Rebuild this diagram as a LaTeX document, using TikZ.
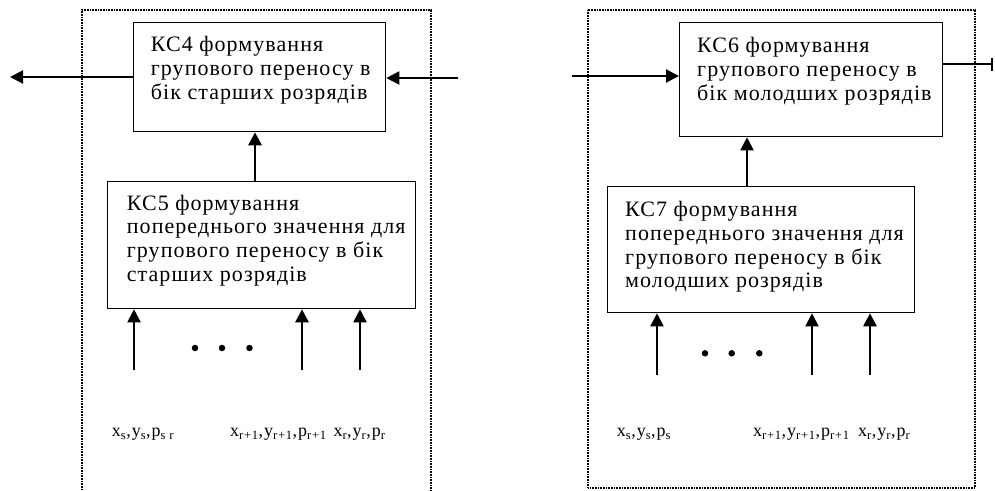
\documentclass[tikz,border=0pt]{standalone}
\usepackage{fontspec}
\setmainfont{Liberation Serif}
\newfontfamily\boxfont[LetterSpace=4.8]{Liberation Serif}
\newfontfamily\lblfont[LetterSpace=5.5]{Liberation Serif}
\usetikzlibrary{arrows.meta}
\begin{document}
\begin{tikzpicture}[x=1pt,y=-1pt,
  blk/.style={draw,line width=1.3pt,inner sep=0pt,anchor=north west},
  txt/.style={anchor=base west,inner sep=0pt,align=left,font=\boxfont\fontsize{22}{23.8}\selectfont},
  lbl/.style={anchor=base west,inner sep=0pt,font=\lblfont\fontsize{18}{20}\selectfont},
  frame/.style={line width=1.6pt,dash pattern=on 1pt off 0.6pt},
  arr/.style={line width=2pt,-{Triangle[length=13pt,width=13pt]}},
  arrb/.style={line width=2.8pt,-{Triangle[length=13pt,width=13pt]}},
  dotn/.style={circle,fill,inner sep=0pt,minimum size=6.5pt}]
\useasboundingbox (0,0) rectangle (995,490);
% frames
\draw[frame] (82,490) -- (82,10) -- (431,10) -- (431,490);
\draw[frame] (588,10) rectangle (975,488);
% left panel
\node[blk,minimum width=252pt,minimum height=109pt] (kc4) at (133,22) {};
\node[txt] (t4) at (150.7,99.3) {КС4 формування\\групового переносу в\\бік старших розрядів};
\node[blk,minimum width=308pt,minimum height=127pt] (kc5) at (107,181) {};
\node[txt] (t5) at (126.7,281.4) {КС5 формування\\попереднього значення для\\групового переносу в бік\\старших розрядів};
\coordinate (l4out) at (10,77);
\coordinate (l4in) at (458,78);
\draw[arr] (kc4.west |- l4out) -- (l4out);
\draw[arr] (l4in) -- (kc4.east |- l4in);
\draw[arrb] (kc5.north -| 255,0) -- (kc4.south -| 255,0);
\coordinate (a1) at (134,370);
\coordinate (a2) at (302,370);
\coordinate (a3) at (360,370);
\draw[arr] (a1) -- (kc5.south -| a1);
\draw[arrb] (a2) -- (kc5.south -| a2);
\draw[arr] (a3) -- (kc5.south -| a3);
\node[dotn] (d1) at (195,348) {};
\node[dotn] (d2) at (222,348) {};
\node[dotn] (d3) at (249.5,348) {};
\node[lbl] (la1) at (111.7,436.7) {x\textsubscript{s},y\textsubscript{s},p\textsubscript{s r}};
\node[lbl] (la2) at (230,436.7) {x\textsubscript{r+1},y\textsubscript{r+1},p\textsubscript{r+1}};
\node[lbl] (la3) at (333.3,436.7) {x\textsubscript{r},y\textsubscript{r},p\textsubscript{r}};
% right panel
\node[blk,minimum width=263pt,minimum height=114pt] (kc6) at (679,22) {};
\node[txt] (t6) at (697,100.1) {КС6 формування\\групового переносу в\\бік молодших розрядів};
\node[blk,minimum width=307pt,minimum height=126pt] (kc7) at (607,186) {};
\node[txt] (t7) at (625,287.9) {КС7 формування\\попереднього значення для\\групового переносу в бік\\молодших розрядів};
\coordinate (r6in) at (572,76);
\coordinate (r6out) at (993,64);
\draw[arr] (r6in) -- (kc6.west |- r6in);
\draw[line width=2pt,-{Bar[width=13pt,line width=2.4pt]}] (kc6.east |- r6out) -- (r6out);
\draw[arr] (kc7.north -| 747,0) -- (kc6.south -| 747,0);
\coordinate (b1) at (657,375);
\coordinate (b2) at (812,375);
\coordinate (b3) at (870,375);
\draw[arr] (b1) -- (kc7.south -| b1);
\draw[arr] (b2) -- (kc7.south -| b2);
\draw[arrb] (b3) -- (kc7.south -| b3);
\node[dotn] (e1) at (705,353.3) {};
\node[dotn] (e2) at (731.7,353.3) {};
\node[dotn] (e3) at (759.3,353.3) {};
\node[lbl] (lb1) at (616.7,436.7) {x\textsubscript{s},y\textsubscript{s},p\textsubscript{s}};
\node[lbl] (lb2) at (753,436.7) {x\textsubscript{r+1},y\textsubscript{r+1},p\textsubscript{r+1}};
\node[lbl] (lb3) at (858,436.7) {x\textsubscript{r},y\textsubscript{r},p\textsubscript{r}};
\end{tikzpicture}
\end{document}
